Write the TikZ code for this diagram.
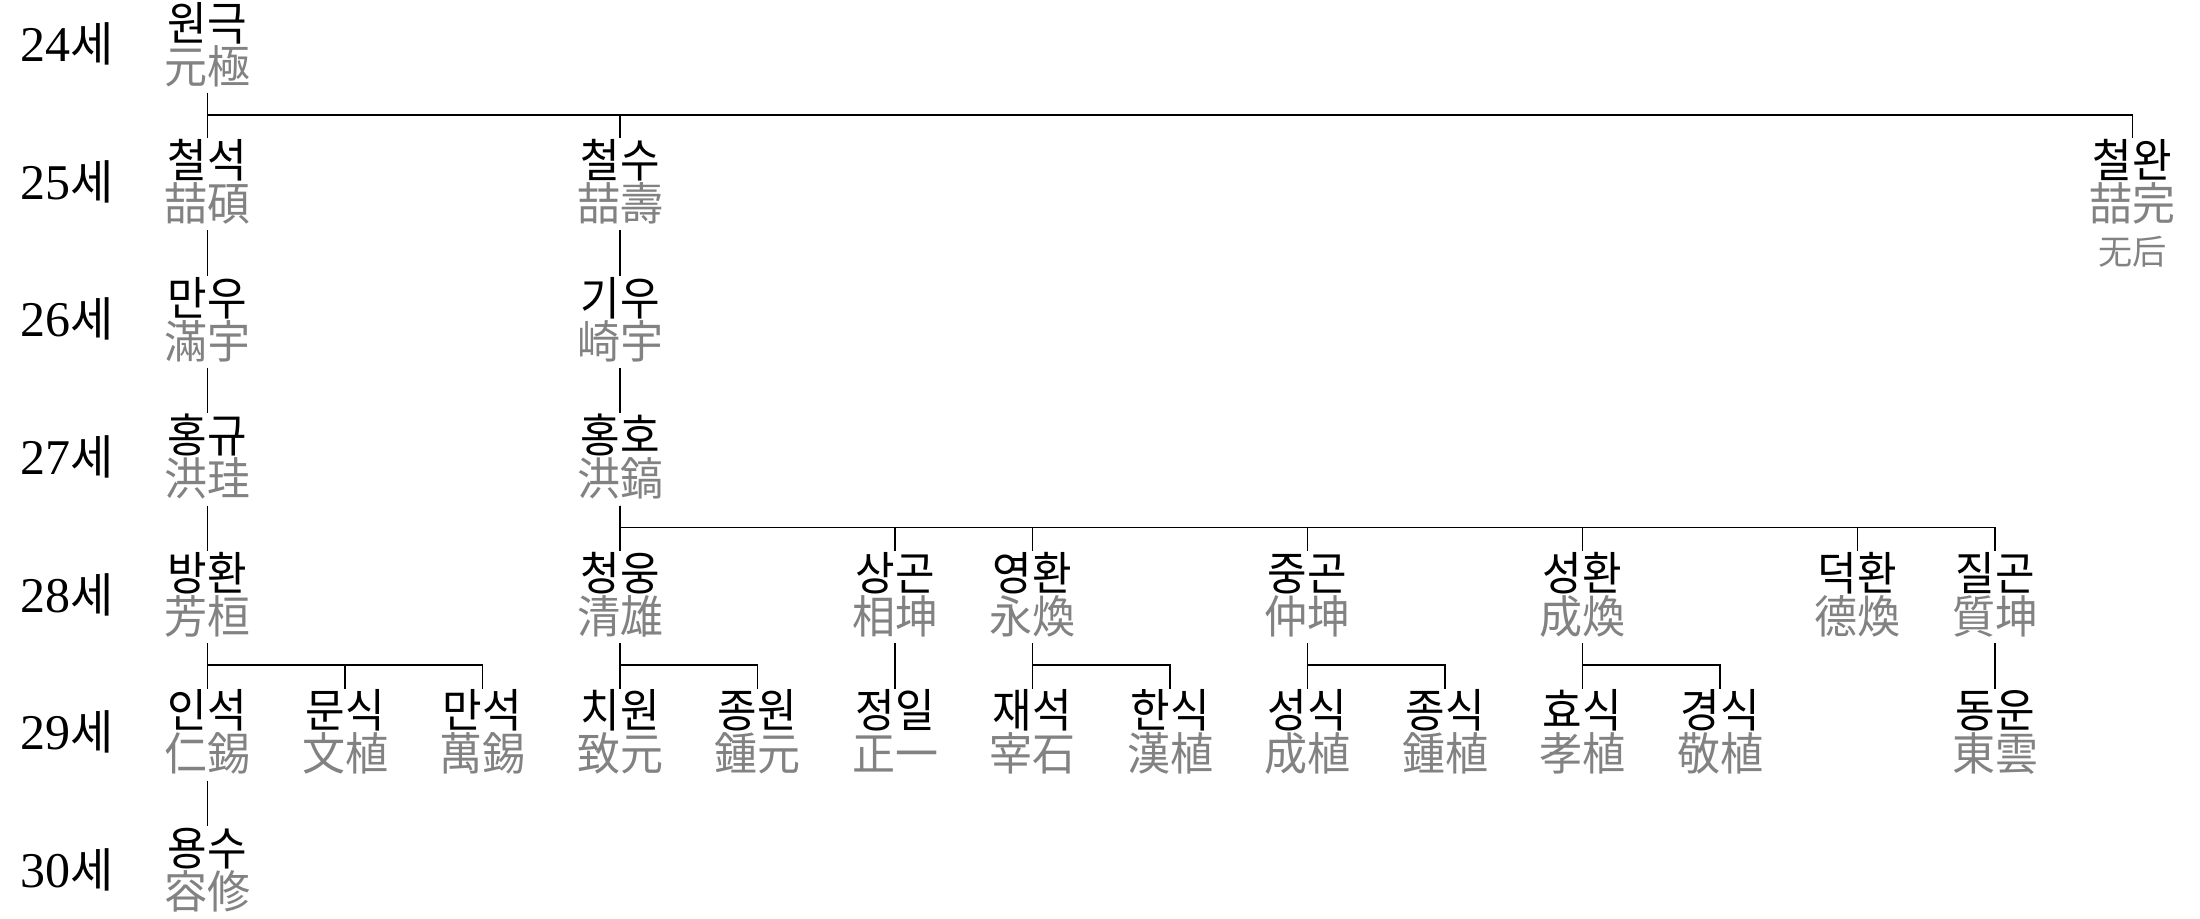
\documentclass[tikz,border=0pt]{standalone}
\usepackage{fontspec}
\usetikzlibrary{calc}
\newfontfamily\kfont{Noto Sans CJK KR}
\newfontfamily\dfont{Liberation Serif}
\definecolor{hanjagray}{HTML}{828282}
\tikzset{
  kor/.style={font=\kfont\fontsize{21.5}{21.5}\selectfont, text height=18.9pt, text depth=2.6pt, inner sep=0pt, text=black},
  han/.style={kor, text=hanjagray},
  hansmall/.style={font=\kfont\fontsize{17}{17}\selectfont, text height=15pt, text depth=2pt, inner sep=0pt, text=hanjagray},
  gen/.style={font=\kfont\fontsize{23.5}{23.5}\selectfont, inner sep=0pt, anchor=base},
  conn/.style={draw=black, line width=0.75pt}
}
\newcommand\pers[5]{%
  \node[kor] (#1) at (#2, {24+137.5*#3}) {\scalebox{1}[1.07]{#4}};
  \node[han] (#1h) at (#2, {67+137.5*#3}) {\scalebox{1}[1.05]{#5}};}
\newcommand\kid[2]{%
  \draw[conn] ($(#1h.center)+(0,26)$) |- ($(#2.center)+(0,-46.5)$) -- ($(#2.center)+(0,-23)$);}
\begin{document}
\begin{tikzpicture}[x=0.5pt, y=-0.5pt]
\fill[white] (0,0) rectangle (2200,919);
\useasboundingbox (0,0) rectangle (2200,919);
% generation labels
\node[gen] (g24) at (67, 62) {{\dfont\fontsize{25}{25}\selectfont 24}세};
\node[gen] (g25) at (67, 199.5) {{\dfont\fontsize{25}{25}\selectfont 25}세};
\node[gen] (g26) at (67, 337) {{\dfont\fontsize{25}{25}\selectfont 26}세};
\node[gen] (g27) at (67, 474.5) {{\dfont\fontsize{25}{25}\selectfont 27}세};
\node[gen] (g28) at (67, 612) {{\dfont\fontsize{25}{25}\selectfont 28}세};
\node[gen] (g29) at (67, 749.5) {{\dfont\fontsize{25}{25}\selectfont 29}세};
\node[gen] (g30) at (67, 887) {{\dfont\fontsize{25}{25}\selectfont 30}세};
% people
\pers{a}{207.5}{0}{원극}{元極}
\pers{b1}{207.5}{1}{철석}{喆碩}
\pers{b2}{620}{1}{철수}{喆壽}
\pers{b3}{2132.5}{1}{철완}{喆完}
\node[hansmall] (b3x) at (2132.5, 252) {无后};
\pers{c1}{207.5}{2}{만우}{滿宇}
\pers{c2}{620}{2}{기우}{崎宇}
\pers{d1}{207.5}{3}{홍규}{洪珪}
\pers{d2}{620}{3}{홍호}{洪鎬}
\pers{e1}{207.5}{4}{방환}{芳桓}
\pers{e2}{620}{4}{청웅}{清雄}
\pers{e3}{895}{4}{상곤}{相坤}
\pers{e4}{1032.5}{4}{영환}{永煥}
\pers{e5}{1307.5}{4}{중곤}{仲坤}
\pers{e6}{1582.5}{4}{성환}{成煥}
\pers{e7}{1857.5}{4}{덕환}{德煥}
\pers{e8}{1995}{4}{질곤}{質坤}
\pers{f1}{207.5}{5}{인석}{仁錫}
\pers{f2}{345}{5}{문식}{文植}
\pers{f3}{482.5}{5}{만석}{萬錫}
\pers{f4}{620}{5}{치원}{致元}
\pers{f5}{757.5}{5}{종원}{鍾元}
\pers{f6}{895}{5}{정일}{正一}
\pers{f7}{1032.5}{5}{재석}{宰石}
\pers{f8}{1170}{5}{한식}{漢植}
\pers{f9}{1307.5}{5}{성식}{成植}
\pers{f10}{1445}{5}{종식}{鍾植}
\pers{f11}{1582.5}{5}{효식}{孝植}
\pers{f12}{1720}{5}{경식}{敬植}
\pers{f13}{1995}{5}{동운}{東雲}
\pers{g1}{207.5}{6}{용수}{容修}
% connectors
\kid{a}{b1}\kid{a}{b2}\kid{a}{b3}
\kid{b1}{c1}\kid{b2}{c2}
\kid{c1}{d1}\kid{c2}{d2}
\kid{d1}{e1}
\kid{d2}{e2}\kid{d2}{e3}\kid{d2}{e4}\kid{d2}{e5}\kid{d2}{e6}\kid{d2}{e7}\kid{d2}{e8}
\kid{e1}{f1}\kid{e1}{f2}\kid{e1}{f3}
\kid{e2}{f4}\kid{e2}{f5}
\kid{e3}{f6}
\kid{e4}{f7}\kid{e4}{f8}
\kid{e5}{f9}\kid{e5}{f10}
\kid{e6}{f11}\kid{e6}{f12}
\kid{e8}{f13}
\kid{f1}{g1}
\end{tikzpicture}
\end{document}
